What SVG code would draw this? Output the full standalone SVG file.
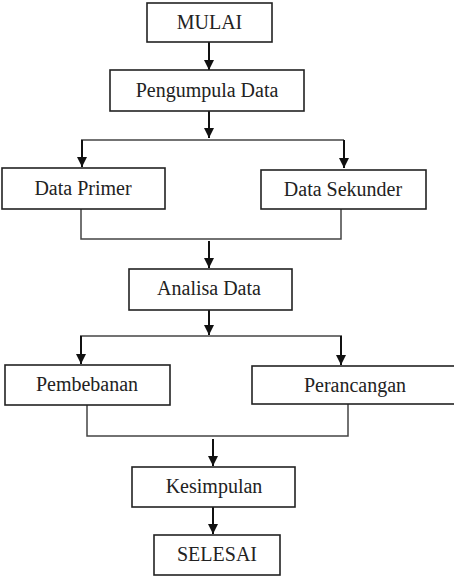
<svg xmlns="http://www.w3.org/2000/svg" width="454" height="586" viewBox="0 0 454 586">
<style>
.box{fill:#fff;stroke:#222;stroke-width:1.6}
.lbl{font-family:'Liberation Serif','Times New Roman',serif;font-size:20px;fill:#222;text-anchor:middle}
.arr{fill:none;stroke:#111;stroke-width:2;marker-end:url(#ah)}
.ln{fill:none;stroke:#444;stroke-width:1.5}
</style>
<defs>
<marker id="ah" viewBox="0 0 10 10" refX="10" refY="5" markerWidth="5" markerHeight="5" markerUnits="strokeWidth" orient="auto">
<path d="M0,0 L10,5 L0,10 Z" fill="#111"/>
</marker>
</defs>
<rect width="454" height="586" fill="#fff"/>
<g id="connectors">
<path class="arr" d="M209,42 V70"/>
<path class="arr" d="M209,111 V138"/>
<path class="ln" d="M81,140 H344"/>
<path class="arr" d="M82,140 V167"/>
<path class="arr" d="M344,140 V168"/>
<path class="ln" d="M81,209 V239 H341 V209"/>
<path class="arr" d="M209,241 V268"/>
<path class="arr" d="M209,310 V335"/>
<path class="ln" d="M80,336 H342"/>
<path class="arr" d="M81,336 V364"/>
<path class="arr" d="M341,336 V365"/>
<path class="ln" d="M87,405 V436 H348 V404"/>
<path class="arr" d="M213,439 V466"/>
<path class="arr" d="M213,507 V534"/>
</g>
<g id="mulai"><rect class="box" x="147" y="3" width="125" height="39"/><text class="lbl" x="209.5" y="29">MULAI</text></g>
<g id="pengumpula"><rect class="box" x="110" y="70" width="194" height="41"/><text class="lbl" x="207" y="97">Pengumpula Data</text></g>
<g id="primer"><rect class="box" x="2" y="168" width="163" height="41"/><text class="lbl" x="83" y="195">Data Primer</text></g>
<g id="sekunder"><rect class="box" x="261" y="170" width="165" height="39"/><text class="lbl" x="343" y="196">Data Sekunder</text></g>
<g id="analisa"><rect class="box" x="129" y="269" width="163" height="41"/><text class="lbl" x="209" y="295">Analisa Data</text></g>
<g id="pembebanan"><rect class="box" x="5" y="365" width="165" height="40"/><text class="lbl" x="87" y="391">Pembebanan</text></g>
<g id="perancangan"><rect class="box" x="252" y="366" width="204" height="38"/><text class="lbl" x="355" y="392">Perancangan</text></g>
<g id="kesimpulan"><rect class="box" x="132" y="467" width="163" height="40"/><text class="lbl" x="214" y="493">Kesimpulan</text></g>
<g id="selesai"><rect class="box" x="154" y="535" width="126" height="40"/><text class="lbl" x="217" y="561">SELESAI</text></g>
</svg>
